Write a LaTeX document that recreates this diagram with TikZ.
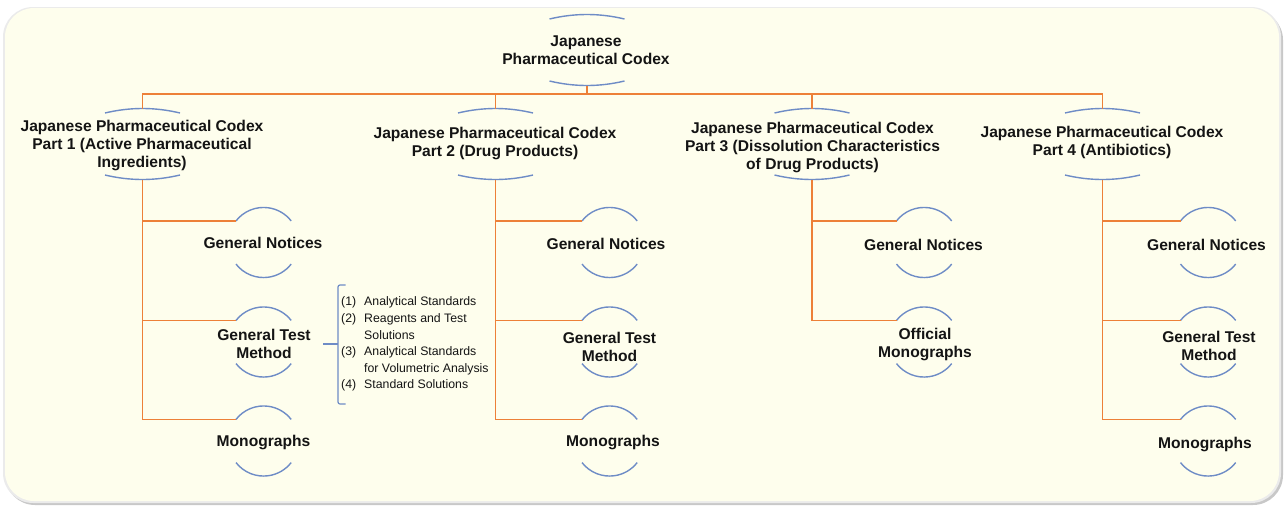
\documentclass[tikz,border=0pt]{standalone}
\usepackage{fontspec}
\setmainfont{Liberation Sans}
\usetikzlibrary{calc}
\definecolor{cream}{RGB}{254,254,237}
\definecolor{orng}{RGB}{237,128,56}
\definecolor{arcblue}{RGB}{110,140,198}
\definecolor{shadowgray}{RGB}{200,200,200}
\definecolor{txt}{RGB}{20,20,20}
\newcommand\parentarcs[1]{%
  \draw[arcline] ([shift={(-37.5,-31)}]#1) .. controls ([shift={(-12.5,-37)}]#1) and ([shift={(12.5,-37)}]#1) .. ([shift={(37.5,-31)}]#1);
  \draw[arcline] ([shift={(-37.5,31)}]#1) .. controls ([shift={(-12.5,37)}]#1) and ([shift={(12.5,37)}]#1) .. ([shift={(37.5,31)}]#1);}
\newcommand\childarcs[1]{%
  \draw[arcline] ([shift={(-27.5,-21.6)}]#1) arc[start angle=218,end angle=322,radius=35];
  \draw[arcline] ([shift={(-27.5,21.6)}]#1) arc[start angle=142,end angle=38,radius=35];}
\begin{document}
\begin{tikzpicture}[x=1pt,y=-1pt,
  conn/.style={draw=orng,line width=1.8pt},
  arcline/.style={draw=arcblue,line width=1.4pt},
  head/.style={font=\fontsize{15.6}{18}\selectfont\bfseries,align=center,inner sep=0pt,text=txt,yshift=-2pt},
  lst/.style={font=\fontsize{12.3}{16.6}\selectfont,inner sep=0pt,anchor=west,text=txt,yshift=-1.5pt}]
\useasboundingbox (0,0) rectangle (1285,509);
% background
\fill[shadowgray,rounded corners=30] (5,10) rectangle (1283,505);
\fill[white!92!black,rounded corners=30] (3,7) rectangle (1281,503);
\fill[cream,rounded corners=29] (5,8) rectangle (1279,501);

% root
\coordinate (rootc) at (587,50);
\node[head] (root) at (586,48) {Japanese\\Pharmaceutical Codex};
\parentarcs{rootc}
\coordinate (bus) at (587,94);

% parts
\coordinate (p1c) at (142.5,144);
\coordinate (p2c) at (495.5,144);
\coordinate (p3c) at (812,144);
\coordinate (p4c) at (1102.5,144);
\node[head] (p1) at (142,143) {Japanese Pharmaceutical Codex\\Part 1 (Active Pharmaceutical\\Ingredients)};
\node[head] (p2) at (495,141.5) {Japanese Pharmaceutical Codex\\Part 2 (Drug Products)};
\node[head] (p3) at (812.5,145) {Japanese Pharmaceutical Codex\\Part 3 (Dissolution Characteristics\\of Drug Products)};
\node[head] (p4) at (1102,140) {Japanese Pharmaceutical Codex\\Part 4 (Antibiotics)};
\parentarcs{p1c}
\parentarcs{p2c}
\parentarcs{p3c}
\parentarcs{p4c}

% children circle centres
\coordinate (c11) at (263.5,242.5);
\coordinate (c12) at (263.5,342);
\coordinate (c13) at (263.5,441);
\coordinate (c21) at (609.5,242.5);
\coordinate (c22) at (609.5,342);
\coordinate (c23) at (609.5,441);
\coordinate (c31) at (924,242.5);
\coordinate (c32) at (924,342);
\coordinate (c41) at (1208,242.5);
\coordinate (c42) at (1208,342);
\coordinate (c43) at (1208,441);

\node[head] (g11) at (263,241) {General Notices};
\node[head] (g12) at (264,342) {General Test\\Method};
\node[head] (g13) at (263.5,440) {Monographs};
\node[head] (g21) at (606,242) {General Notices};
\node[head] (g22) at (609.5,344.5) {General Test\\Method};
\node[head] (g23) at (613,440) {Monographs};
\node[head] (g31) at (923.5,243) {General Notices};
\node[head] (g32) at (925,342.5) {Official\\Monographs};
\node[head] (g41) at (1206.5,243) {General Notices};
\node[head] (g42) at (1209,344) {General Test\\Method};
\node[head] (g43) at (1205,442) {Monographs};

\foreach \c in {c11,c12,c13,c21,c22,c23,c31,c32,c41,c42,c43}{\childarcs{\c}}

% connectors
\draw[conn] ([shift={(0,35.5)}]rootc) -- (bus);
\foreach \p in {p1c,p2c,p3c,p4c}{\draw[conn] (bus) -| ([shift={(0,-35.5)}]\p);}
\foreach \p/\c in {p1c/c11,p1c/c12,p1c/c13,p2c/c21,p2c/c22,p2c/c23,p3c/c31,p3c/c32,p4c/c41,p4c/c42,p4c/c43}{
  \draw[conn] ([shift={(0,35.5)}]\p) |- ([shift={(-27.5,-21.6)}]\c);}

% bracket and list
\coordinate (brk) at (323,344);
\draw[arcline,line width=1.2pt,rounded corners=2] (345.5,285) -- (338,285) -- (338,404) -- (345.5,404);
\draw[arcline,line width=1.2pt] (338,344) -- (brk);
\node[lst] (list) at (341,342.5) {\begin{tabular}{@{}l@{\hspace{8pt}}l@{}}
(1) & Analytical Standards\\
(2) & Reagents and Test\\
    & Solutions\\
(3) & Analytical Standards\\
    & for Volumetric Analysis\\
(4) & Standard Solutions
\end{tabular}};
\end{tikzpicture}
\end{document}
